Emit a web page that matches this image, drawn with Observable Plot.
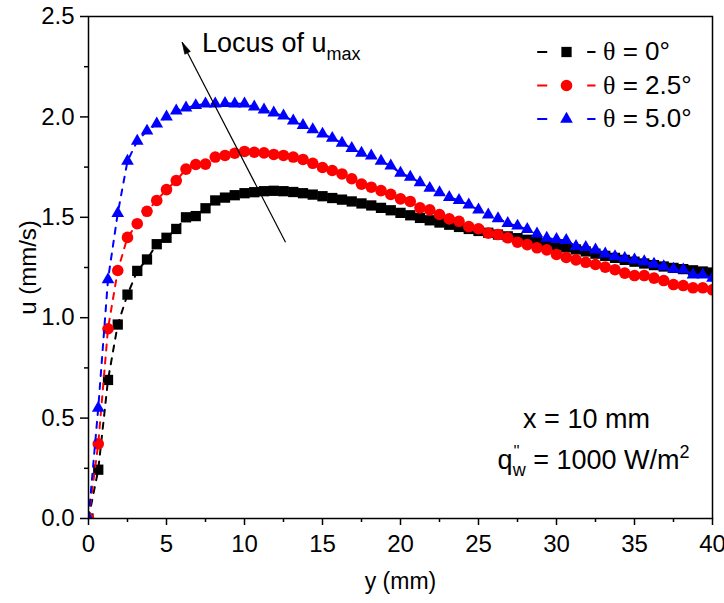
<!DOCTYPE html>
<html><head><meta charset="utf-8">
<script src="https://cdn.jsdelivr.net/npm/d3@7"></script>
<script src="https://cdn.jsdelivr.net/npm/@observablehq/plot@0.6"></script>
<style>
body{margin:0;background:#fff}
#chart svg{font-family:"Liberation Sans",Arial,sans-serif}
</style>
</head><body><div id="chart"></div>
<script>
// distance from wall y (mm)
const yPositions = [0, 0.625, 1.25, 1.875, 2.5, 3.125, 3.75, 4.375, 5, 5.625, 6.25, 6.875, 7.5, 8.125, 8.75, 9.375, 10, 10.625, 11.25, 11.875, 12.5, 13.125, 13.75, 14.375, 15, 15.625, 16.25, 16.875, 17.5, 18.125, 18.75, 19.375, 20, 20.625, 21.25, 21.875, 22.5, 23.125, 23.75, 24.375, 25, 25.625, 26.25, 26.875, 27.5, 28.125, 28.75, 29.375, 30, 30.625, 31.25, 31.875, 32.5, 33.125, 33.75, 34.375, 35, 35.625, 36.25, 36.875, 37.5, 38.125, 38.75, 39.375, 40];
// velocity u (mm/s) for each inclination
const uTheta0 = [0, 0.243, 0.69, 0.966, 1.115, 1.233, 1.29, 1.366, 1.398, 1.442, 1.50, 1.506, 1.545, 1.584, 1.598, 1.61, 1.62, 1.625, 1.63, 1.632, 1.63, 1.626, 1.62, 1.613, 1.605, 1.596, 1.588, 1.579, 1.569, 1.559, 1.547, 1.535, 1.522, 1.51, 1.497, 1.485, 1.474, 1.463, 1.452, 1.442, 1.432, 1.423, 1.414, 1.405, 1.396, 1.388, 1.379, 1.37, 1.36, 1.35, 1.34, 1.33, 1.319, 1.308, 1.298, 1.288, 1.279, 1.27, 1.262, 1.255, 1.248, 1.242, 1.236, 1.23, 1.225];
const uTheta25 = [0, 0.372, 0.945, 1.235, 1.40, 1.468, 1.53, 1.584, 1.638, 1.683, 1.74, 1.763, 1.765, 1.80, 1.808, 1.819, 1.828, 1.824, 1.821, 1.813, 1.808, 1.80, 1.788, 1.769, 1.748, 1.733, 1.716, 1.692, 1.665, 1.65, 1.633, 1.614, 1.592, 1.579, 1.547, 1.537, 1.514, 1.492, 1.48, 1.454, 1.443, 1.421, 1.414, 1.398, 1.376, 1.364, 1.348, 1.338, 1.315, 1.30, 1.288, 1.276, 1.265, 1.252, 1.239, 1.222, 1.21, 1.21, 1.197, 1.185, 1.165, 1.16, 1.149, 1.149, 1.139];
const uTheta50 = [0, 0.55, 1.19, 1.52, 1.78, 1.88, 1.93, 1.965, 2.0, 2.03, 2.045, 2.057, 2.065, 2.065, 2.068, 2.065, 2.065, 2.05, 2.035, 2.02, 2.005, 1.98, 1.958, 1.937, 1.915, 1.894, 1.87, 1.843, 1.82, 1.806, 1.78, 1.756, 1.72, 1.70, 1.673, 1.645, 1.623, 1.60, 1.584, 1.562, 1.537, 1.512, 1.494, 1.47, 1.457, 1.44, 1.418, 1.396, 1.39, 1.385, 1.355, 1.35, 1.338, 1.318, 1.305, 1.296, 1.288, 1.28, 1.267, 1.255, 1.242, 1.239, 1.214, 1.214, 1.197];

const seriesNames = ["θ = 0°", "θ = 2.5°", "θ = 5.0°"];
const seriesColors = ["#000000", "#ff0000", "#0000ff"];
const seriesSymbols = ["square", "circle", "triangle"];
const seriesRadius = [5.8, 5.8, 4.7];

const xTicks = [0, 5, 10, 15, 20, 25, 30, 35, 40];
const xMinorTicks = [2.5, 7.5, 12.5, 17.5, 22.5, 27.5, 32.5, 37.5];
const yTicks = [0, 0.5, 1.0, 1.5, 2.0, 2.5];
const yMinorTicks = [0.25, 0.75, 1.25, 1.75, 2.25];

// locus of u_max arrow (tail -> head), data units
const locusArrow = [{x1: 12.63, y1: 1.376, x2: 6.0, y2: 2.372}];

const seriesValues = [uTheta0, uTheta25, uTheta50];
const tables = seriesValues.map((vals, s) => vals.map((v, i) => ({y: yPositions[i], u: v, series: seriesNames[s]})));

// legend dash segments on either side of the marker
const dashPair = {
  draw(ctx) {
    ctx.rect(-29.3, -1, 10, 2);
    ctx.rect(20.7, -1, 8.3, 2);
  }
};
// filled narrow arrowhead, tip at the origin, pointing along the locus arrow
const arrowHead = {
  draw(ctx) {
    ctx.moveTo(0, 0);
    ctx.lineTo(8.3, 9.2);
    ctx.lineTo(2.7, 12.1);
    ctx.closePath();
  }
};
const legendRowDy = [35.5, 69, 102.5];

const marks = [
  Plot.axisX(xMinorTicks, {tickSize: 4, tickFormat: () => "", label: null, strokeWidth: 1.5}),
  Plot.axisX(xTicks, {tickSize: 7, tickPadding: 9, fontSize: 24, tickFormat: d => String(d), label: null, strokeWidth: 1.5}),
  Plot.axisY(yMinorTicks, {tickSize: 4, tickFormat: () => "", label: null, strokeWidth: 1.5}),
  Plot.axisY(yTicks, {tickSize: 8, tickPadding: 6, fontSize: 24, tickFormat: d3.format(".1f"), label: null, strokeWidth: 1.5})
];
tables.forEach((t, s) => {
  marks.push(Plot.line(t, {x: "y", y: "u", stroke: seriesColors[s], strokeWidth: 2, strokeDasharray: "6,7", clip: true}));
  marks.push(Plot.dot(t, {x: "y", y: "u", symbol: seriesSymbols[s], fill: seriesColors[s], r: seriesRadius[s], clip: true}));
});
seriesNames.forEach((name, s) => {
  marks.push(Plot.dot([name], {frameAnchor: "top-right", dx: -146, dy: legendRowDy[s], symbol: dashPair, fill: seriesColors[s]}));
  marks.push(Plot.dot([name], {frameAnchor: "top-right", dx: -146, dy: legendRowDy[s], symbol: seriesSymbols[s], fill: seriesColors[s], r: seriesRadius[s]}));
  marks.push(Plot.text([name], {frameAnchor: "top-right", dx: -109.5, dy: legendRowDy[s], textAnchor: "start", lineAnchor: "middle", fontSize: 26, fill: "black"}));
});
marks.push(
  Plot.link(locusArrow, {x1: "x1", y1: "y1", x2: "x2", y2: "y2", stroke: "black", strokeWidth: 1.2}),
  Plot.dot(locusArrow, {x: "x2", y: "y2", symbol: arrowHead, fill: "black", stroke: "black", strokeWidth: 0.6}),
  Plot.text(["Locus of umax"], {frameAnchor: "top-left", dx: 113.5, dy: 27, textAnchor: "start", lineAnchor: "middle", fontSize: 27}),
  Plot.text(["x = 10 mm"], {frameAnchor: "bottom-right", dx: -126, dy: -99, textAnchor: "middle", lineAnchor: "middle", fontSize: 27}),
  Plot.text(["qw = 1000 W/m2"], {frameAnchor: "bottom-right", dx: -215, dy: -58, textAnchor: "start", lineAnchor: "middle", fontSize: 27}),
  Plot.text(["u (mm/s)"], {frameAnchor: "left", dx: -60, rotate: -90, textAnchor: "middle", lineAnchor: "middle", fontSize: 24}),
  Plot.text(["y (mm)"], {frameAnchor: "bottom", dx: 0, dy: 63, textAnchor: "middle", lineAnchor: "middle", fontSize: 23}),
  Plot.frame({stroke: "black", strokeWidth: 1.5})
);

const chart = Plot.plot({
  width: 724,
  height: 603,
  marginLeft: 88,
  marginRight: 12,
  marginTop: 16,
  marginBottom: 85,
  style: {fontFamily: "'Liberation Sans', Arial, sans-serif", fontSize: "24px", background: "white", color: "black", overflow: "visible"},
  x: {domain: [0, 40]},
  y: {domain: [0, 2.5]},
  marks
});
document.getElementById("chart").appendChild(chart);

// rich text: subscripts, superscripts, serif theta
const svg = d3.select(chart);
svg.selectAll("text").each(function () {
  const t = d3.select(this);
  const s = this.textContent;
  if (s === "Locus of umax") {
    t.text(null);
    t.append("tspan").text("Locus of u");
    t.append("tspan").attr("dy", 8).attr("font-size", 18).text("max");
  } else if (s === "qw = 1000 W/m2") {
    t.text(null);
    t.append("tspan").text("q");
    t.append("tspan").attr("dx", 1).attr("dy", -12).attr("font-size", 16).text("''");
    t.append("tspan").attr("dx", -7).attr("dy", 19).attr("font-size", 18).text("w");
    t.append("tspan").attr("dy", -7).attr("font-size", 27).text(" = 1000 W/m");
    t.append("tspan").attr("dy", -11).attr("font-size", 18).text("2");
  } else if (seriesNames.includes(s)) {
    t.text(null);
    t.append("tspan").attr("font-family", "'Liberation Serif', 'DejaVu Serif', serif").text("θ");
    t.append("tspan").text(s.slice(1));
  }
});
</script>
</body></html>
